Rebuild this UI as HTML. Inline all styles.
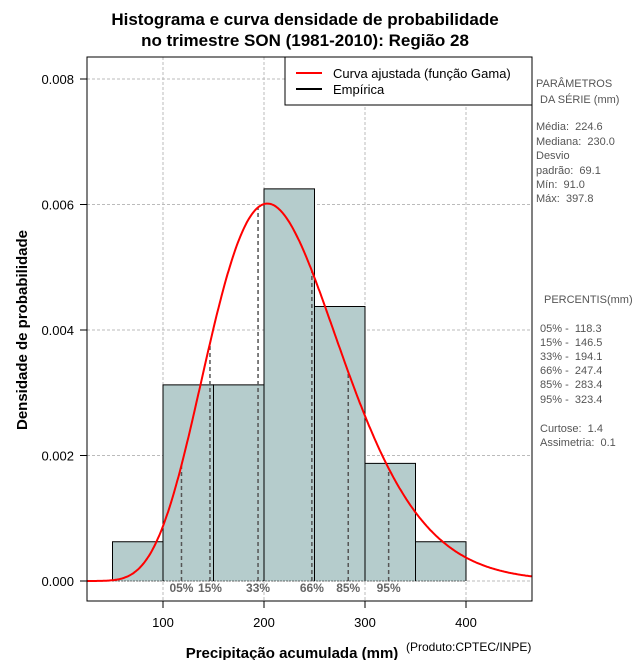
<!DOCTYPE html>
<html><head><meta charset="utf-8"><style>
body{margin:0;background:#fff}
svg text{font-family:"Liberation Sans",sans-serif}
.pre text{white-space:pre}
</style></head><body>
<svg id="chart" width="640" height="660" xmlns="http://www.w3.org/2000/svg">
<text x="305" y="25" font-size="17" font-weight="bold" text-anchor="middle">Histograma e curva densidade de probabilidade</text>
<text x="305" y="46" font-size="17" font-weight="bold" text-anchor="middle">no trimestre SON (1981-2010): Região 28</text>
<g id="grid"></g><g id="bars"></g><g id="pct"></g><g id="curve"></g><g id="axes"></g>
<rect x="87" y="57" width="445" height="544" fill="none" stroke="#000"/>
<g>
<rect x="285" y="57" width="247" height="48" fill="#fff" stroke="#000"/>
<line x1="296" y1="73" x2="322" y2="73" stroke="red" stroke-width="2"/>
<text x="333" y="78" font-size="13">Curva ajustada (função Gama)</text>
<line x1="296" y1="89" x2="322" y2="89" stroke="#000" stroke-width="2"/>
<text x="333" y="94" font-size="13">Empírica</text>
</g>
<text transform="translate(27,330) rotate(-90)" font-size="15" font-weight="bold" text-anchor="middle">Densidade de probabilidade</text>
<text x="292" y="658" font-size="15" font-weight="bold" text-anchor="middle">Precipitação acumulada (mm)</text>
<text x="406" y="651" font-size="12">(Produto:CPTEC/INPE)</text>
<g class="pre" font-size="11" fill="#555">
<text x="536" y="87">PARÂMETROS</text><text x="540" y="103">DA SÉRIE (mm)</text>
<text x="536" y="130">Média:  224.6</text><text x="536" y="145">Mediana:  230.0</text>
<text x="536" y="159">Desvio</text><text x="536" y="174">padrão:  69.1</text>
<text x="536" y="188">Mín:  91.0</text><text x="536" y="202">Máx:  397.8</text>
<text x="544" y="303">PERCENTIS(mm)</text>
<text x="540" y="332">05% -  118.3</text><text x="540" y="346">15% -  146.5</text>
<text x="540" y="360">33% -  194.1</text><text x="540" y="374">66% -  247.4</text>
<text x="540" y="388">85% -  283.4</text><text x="540" y="403">95% -  323.4</text>
<text x="540" y="432">Curtose:  1.4</text><text x="540" y="446">Assimetria:  0.1</text>
</g>
</svg>
<script>
const binEdges=[50,100,150,200,250,300,350,400];
const binDensity=[0.000625,0.003125,0.003125,0.00625,0.004375,0.001875,0.000625];
const gammaParams=[224.6,69.1];
const percentileValues=[118.3,146.5,194.1,247.4,283.4,323.4];
const percentileLabels=["05%","15%","33%","66%","85%","95%"];
const xTicks=[100,200,300,400];
const yTicks=[0,0.002,0.004,0.006,0.008];
const yTickLabels=["0.000","0.002","0.004","0.006","0.008"];
const NS="http://www.w3.org/2000/svg";
const X=v=>62+v*1.01, Y=v=>581-v*62750;
function mk(p,t,a){const e=document.createElementNS(NS,t);for(const k in a)e.setAttribute(k,a[k]);document.getElementById(p).appendChild(e);return e;}
function lgamma(z){const g=7,c=[0.99999999999980993,676.5203681218851,-1259.1392167224028,771.32342877765313,-176.61502916214059,12.507343278686905,-0.13857109526572012,9.9843695780195716e-6,1.5056327351493116e-7];z-=1;let x=c[0];for(let i=1;i<9;i++)x+=c[i]/(z+i);const t=z+g+0.5;return 0.5*Math.log(2*Math.PI)+(z+0.5)*Math.log(t)-t+Math.log(x);}
const k=(gammaParams[0]/gammaParams[1])**2, th=gammaParams[1]**2/gammaParams[0];
const pdf=x=>x<=0?0:Math.exp((k-1)*Math.log(x)-x/th-lgamma(k)-k*Math.log(th));
xTicks.forEach(t=>{let l=mk('grid','line',{x1:X(t),x2:X(t),y1:57,y2:601,stroke:'#bbb','stroke-dasharray':'3,2'});

l=mk('axes','line',{x1:X(t),x2:X(t),y1:601,y2:608,stroke:'#000'});

const tx=mk('axes','text',{x:X(t),y:627,'font-size':13,'text-anchor':'middle'});tx.textContent=t;
});
yTicks.forEach((t,i)=>{let l=mk('grid','line',{x1:87,x2:532,y1:Y(t),y2:Y(t),stroke:'#bbb','stroke-dasharray':'3,2'});

l=mk('axes','line',{x1:80,x2:87,y1:Y(t),y2:Y(t),stroke:'#000'});

const tx=mk('axes','text',{x:74,y:Y(t)+5,'font-size':13,'text-anchor':'end'});tx.textContent=yTickLabels[i];
});
binDensity.forEach((d,i)=>{const x0=X(binEdges[i]),x1=X(binEdges[i+1]);
const r=mk('bars','rect',{x:x0,y:Y(d),width:x1-x0,height:Y(0)-Y(d),fill:'#b5cccc',stroke:'none'});

const o=mk('bars','path',{d:`M${x0},${Y(0)}V${Y(d)}H${x1}V${Y(0)}`,fill:'none',stroke:'#000'});
});
const bl=mk('bars','line',{x1:X(binEdges[0]),x2:X(binEdges[binEdges.length-1]),y1:Y(0),y2:Y(0),stroke:'#000','stroke-dasharray':'1,2'});

percentileValues.forEach((p,i)=>{const l=mk('pct','line',{x1:X(p),x2:X(p),y1:Y(0),y2:Y(pdf(p)),stroke:'#555','stroke-width':1.5,'stroke-dasharray':'4,3'});

const t=mk('pct','text',{x:X(p),y:592,'font-size':12,'font-weight':'bold',fill:'#666','text-anchor':'middle'});t.textContent=percentileLabels[i];
});
let d='';for(let x=25;x<=465;x+=1){d+=(x===25?'M':'L')+X(x).toFixed(1)+','+Y(pdf(x)).toFixed(1);}
const c=mk('curve','path',{d:d,fill:'none',stroke:'red','stroke-width':2});

</script>
</body></html>
